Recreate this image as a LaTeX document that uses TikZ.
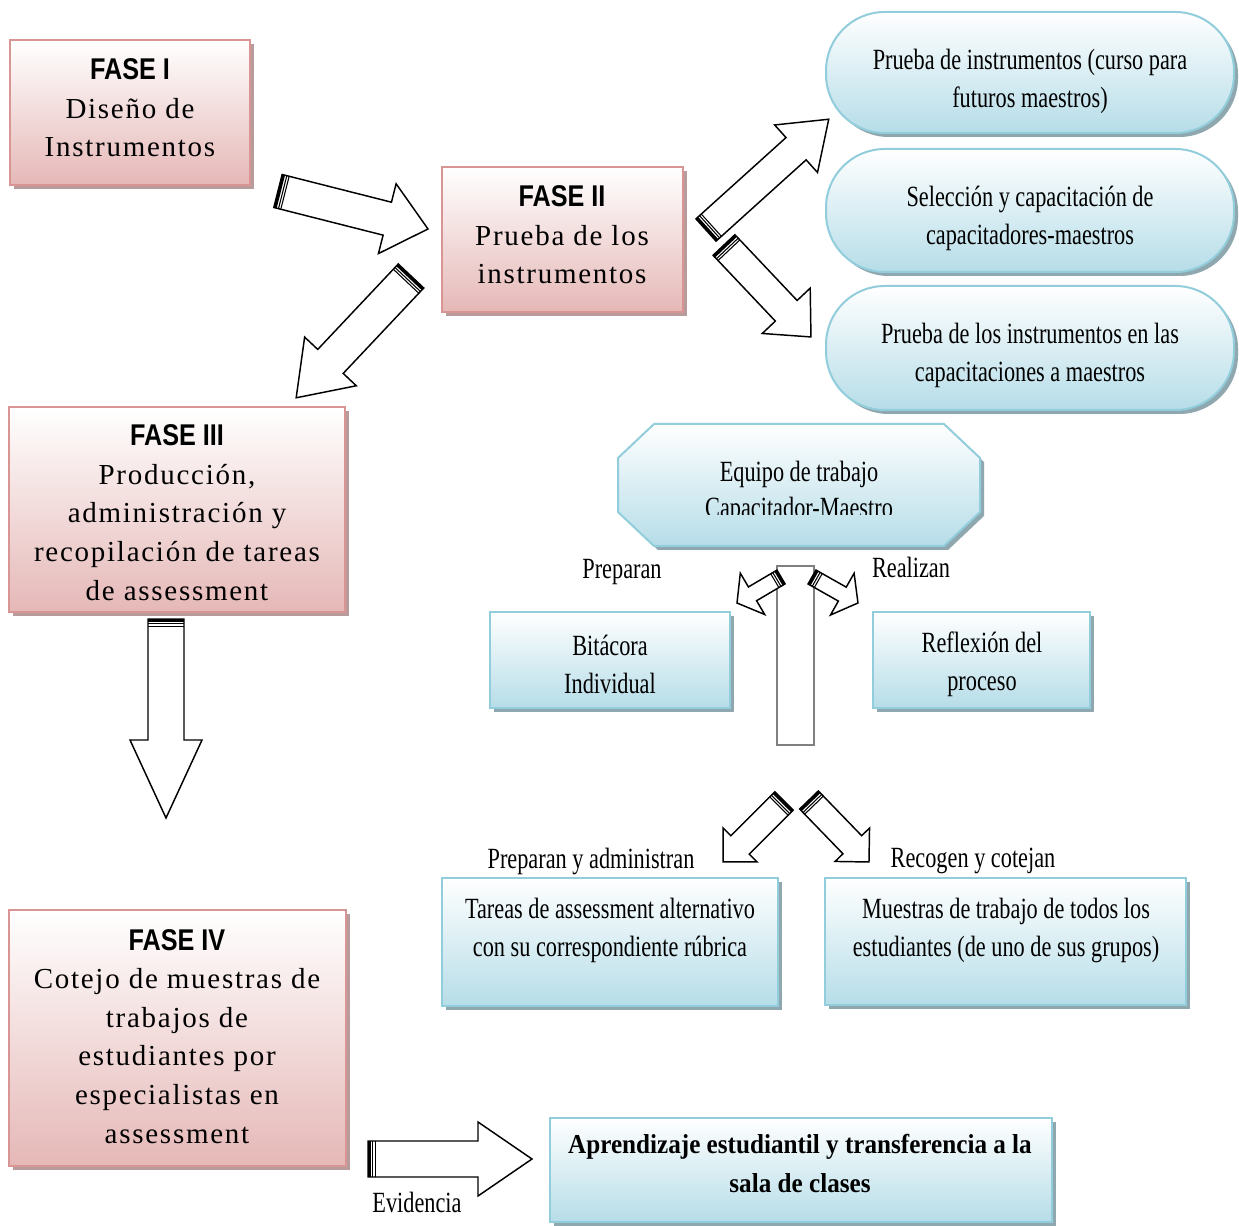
\documentclass[tikz,border=0pt]{standalone}
\usepackage{fontspec}
\setmainfont{Liberation Serif}
\newfontfamily\condfont[FakeStretch=0.76]{Liberation Serif}
\newfontfamily\condbfont[FakeStretch=0.92]{Liberation Serif}
\newfontfamily\fasefont[FakeStretch=0.84]{Liberation Sans}
\newfontfamily\phasefont[LetterSpace=6]{Liberation Serif}
\usetikzlibrary{shadows,calc}

\definecolor{pinkline}{HTML}{D99594}
\definecolor{pinkfill}{HTML}{E5B8B7}
\definecolor{pinkshade}{HTML}{B89B9B}
\definecolor{blueline}{HTML}{92CDDC}
\definecolor{bluefill}{HTML}{B6DDE8}
\definecolor{blueshade}{HTML}{8FA7AF}
\definecolor{stemgray}{HTML}{808080}

\tikzset{
  phase/.style={draw=pinkline, line width=1.5pt, top color=white, bottom color=pinkfill,
    drop shadow={shadow xshift=3pt, shadow yshift=-3pt, fill=pinkshade, opacity=1},
    inner sep=0pt, outer sep=0pt},
  task/.style={draw=blueline, line width=1.5pt, top color=white, bottom color=bluefill,
    drop shadow={shadow xshift=3pt, shadow yshift=-3pt, fill=blueshade, opacity=1},
    inner sep=0pt, outer sep=0pt},
  pill/.style={task, rounded corners=44pt},
  stembox/.style={draw=stemgray, line width=1.7pt, fill=white, inner sep=0pt, outer sep=0pt},
  blockarrow/.style={draw=black, fill=white, line width=1.1pt, line join=miter},
  phasetxt/.style={anchor=base, align=center, inner sep=0pt,
    font=\phasefont\fontsize{21.75}{28.9}\selectfont},
  condtxt/.style={anchor=base, align=center, inner sep=0pt,
    font=\condfont\fontsize{22}{28.5}\selectfont},
  boldtxt/.style={anchor=base, align=center, inner sep=0pt,
    font=\condbfont\bfseries\fontsize{20.5}{29.2}\selectfont},
}

% heading line of a phase box
\newcommand\fase[1]{{\fasefont\bfseries\fontsize{22.5}{28.9}\selectfont #1}}

% rectangular box node given by its corners (px)
\newcommand\bx[6]{%
  \node[#1, anchor=north west, minimum width={(#5-#3)*0.75pt},
        minimum height={(#6-#4)*0.75pt}] (#2) at (#3,#4) {};}

% block arrow from tail coordinate #1 to tip coordinate #2;
% #3 shaft width, #4 head width, #5 head length (px)
\newcommand\blockarrow[5]{%
  \path (#1); \pgfgetlastxy{\baxa}{\baya}%
  \path (#2); \pgfgetlastxy{\baxb}{\bayb}%
  \pgfmathsetmacro\baang{atan2(\bayb-\baya,\baxb-\baxa)}%
  \pgfmathsetmacro\balen{veclen(\baxb-\baxa,\bayb-\baya)}%
  \pgfmathsetmacro\bas{#3*0.375}%
  \pgfmathsetmacro\bah{#4*0.375}%
  \pgfmathsetmacro\bab{\balen-#5*0.75}%
  \begin{scope}[shift={(#1)}, rotate=\baang, x=1pt, y=1pt]
    \draw[blockarrow] (0,-\bas) -- (\bab,-\bas) -- (\bab,-\bah) -- (\balen,0)
      -- (\bab,\bah) -- (\bab,\bas) -- (0,\bas) -- cycle;
    \fill (0,-\bas) rectangle (2.2,\bas);
    \fill (3.2,-\bas) rectangle (4.0,\bas);
    \fill (5.0,-\bas) rectangle (5.8,\bas);
  \end{scope}}

\begin{document}
\begin{tikzpicture}[x=0.75pt, y=-0.75pt]
\fill[white] (0,0) rectangle (1239,1226);
\useasboundingbox (0,0) rectangle (1239,1226);

% phase boxes
\bx{phase}{f1}{10}{40}{250}{185}
\bx{phase}{f2}{442}{167}{683}{312}
\bx{phase}{f3}{9}{407}{345}{612}
\bx{phase}{f4}{9}{910}{346}{1166}

% trial boxes on the right
\bx{pill}{p1}{826}{12}{1234}{133}
\bx{pill}{p2}{826}{149}{1234}{272}
\bx{pill}{p3}{826}{286}{1234}{410}

% team octagon
\path[task] (654,424) -- (944,424) -- (980,458) -- (980,512) -- (944,546)
  -- (654,546) -- (618,512) -- (618,458) -- cycle;

% products
\bx{task}{bit}{490}{612}{730}{708}
\bx{task}{ref}{873}{612}{1090}{708}
\bx{task}{tar}{442}{878}{778}{1006}
\bx{task}{mue}{825}{878}{1186}{1005}
\bx{task}{apr}{550}{1118}{1052}{1222}

% central stem
\bx{stembox}{stem}{777}{566}{814}{745}

% arrow ends
\coordinate (a1t) at (278,191);  \coordinate (a1h) at (428,229);
\coordinate (a2t) at (411,276);  \coordinate (a2h) at (296,398);
\coordinate (a3t) at (166,619);  \coordinate (a3h) at (166,818);
\coordinate (a4t) at (368,1159); \coordinate (a4h) at (532,1159);
\coordinate (a5t) at (706,230);  \coordinate (a5h) at (829,119);
\coordinate (a6t) at (724,245);  \coordinate (a6h) at (811,337);
\coordinate (a7t) at (781,577);  \coordinate (a7h) at (737,603);
\coordinate (a8t) at (812,577);  \coordinate (a8h) at (858,603);
\coordinate (a9t) at (784,801);  \coordinate (a9h) at (723,862);
\coordinate (a10t) at (809,800); \coordinate (a10h) at (869,862);

\blockarrow{a1t}{a1h}{34}{72}{42}
\blockarrow{a2t}{a2h}{35}{71}{50}
\blockarrow{a3t}{a3h}{36}{72}{78}
\blockarrow{a4t}{a4h}{36}{74}{54}
\blockarrow{a5t}{a5h}{30}{64}{44}
\blockarrow{a6t}{a6h}{30}{66}{36}
\blockarrow{a7t}{a7h}{16}{48}{18}
\blockarrow{a8t}{a8h}{16}{48}{18}
\blockarrow{a9t}{a9h}{26}{48}{24}
\blockarrow{a10t}{a10h}{26}{48}{24}

% phase texts (placed by the baseline of their last line)
\node[phasetxt] (f1t) at (130,157) {\fase{FASE I}\\Diseño de\\Instrumentos};
\node[phasetxt] (f2t) at (562,284) {\fase{FASE II}\\Prueba de los\\instrumentos};
\node[phasetxt] (f3t) at (177,600) {\fase{FASE III}\\Producción,\\administración y\\recopilación de tareas\\de assessment};
\node[phasetxt] (f4t) at (177,1143) {\fase{FASE IV}\\Cotejo de muestras de\\trabajos de\\estudiantes por\\especialistas en\\assessment};

% trial texts
\node[condtxt] (p1t) at (1030,108) {Prueba de instrumentos (curso para\\futuros maestros)};
\node[condtxt] (p2t) at (1030,245) {Selección y capacitación de\\capacitadores-maestros};
\node[condtxt] (p3t) at (1030,382) {Prueba de los instrumentos en las\\capacitaciones a maestros};

% team texts
\node[condtxt] (teamA) at (799,482) {Equipo de trabajo};
\begin{scope}
  \clip (618,424) rectangle (980,515);
  \node[condtxt] (teamB) at (799,518) {Capacitador-Maestro};
\end{scope}

% labels
\node[condtxt] (lprep) at (622,579) {Preparan};
\node[condtxt] (lreal) at (911,578) {Realizan};
\node[condtxt] (ladm) at (591,868) {Preparan y administran};
\node[condtxt] (lrec) at (973,867) {Recogen y cotejan};
\node[condtxt] (lev) at (417,1212) {Evidencia};

% product texts
\node[condtxt] (bitt) at (610,693) {Bitácora\\Individual};
\node[condtxt] (reft) at (982,690) {Reflexión del\\proceso};
\node[condtxt] (tart) at (610,956) {Tareas de assessment alternativo\\con su correspondiente rúbrica};
\node[condtxt] (muet) at (1006,956) {Muestras de trabajo de todos los\\estudiantes (de uno de sus grupos)};
\node[boldtxt] (aprt) at (800,1192) {Aprendizaje estudiantil y transferencia a la\\sala de clases};
\end{tikzpicture}
\end{document}
